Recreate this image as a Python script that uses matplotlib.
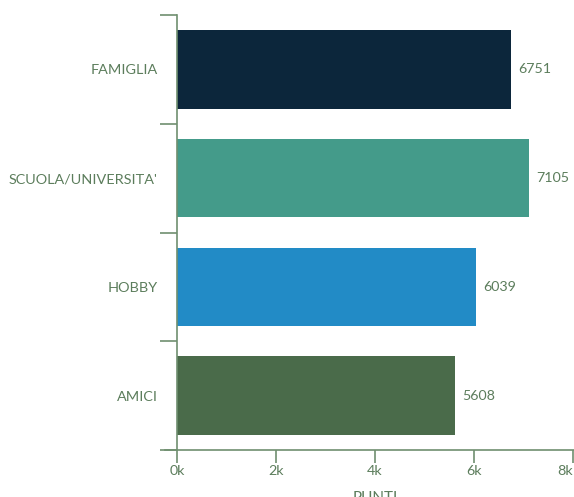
import matplotlib
matplotlib.use("Agg")
import matplotlib.pyplot as plt
from matplotlib.lines import Line2D

categorie = ["FAMIGLIA", "SCUOLA/UNIVERSITA'", "HOBBY", "AMICI"]
punti = [6751, 7105, 6039, 5608]
colori = ["#0c263b", "#449b8a", "#228bc6", "#4a6b4a"]
xticks = [0, 2000, 4000, 6000, 8000]
xtick_labels = ["0k", "2k", "4k", "6k", "8k"]

testo = "#5c7d5c"
linea = "#6f8f6f"

plt.rcParams["font.family"] = ["Lato", "DejaVu Sans"]

fig = plt.figure(figsize=(5.74, 4.97), dpi=100)
ax = fig.add_axes([177/574, 47/497, 396/574, 435/497])

pos = list(range(len(categorie)))
ax.barh(pos, punti, height=0.72, color=colori)
ax.set_ylim(len(categorie) - 0.5, -0.5)
ax.set_xlim(0, 8000)

# etichette dei valori
for p, v in zip(pos, punti):
    ax.text(v + 150, p, str(v), va="center", ha="left", fontsize=10.3, color=testo)

ax.set_yticks(pos)
ax.set_yticklabels(categorie, fontsize=10.4, color=testo)
ax.set_yticks([p - 0.5 for p in pos] + [len(pos) - 0.5], minor=True)
ax.tick_params(axis="y", which="major", length=0, pad=14)
ax.tick_params(axis="y", which="minor", length=12, color=linea, width=1.2)

ax.set_xticks(xticks)
ax.set_xticklabels(xtick_labels, fontsize=10.3, color=testo)
ax.get_xticklabels()[-1].set_ha("right")
ax.tick_params(axis="x", length=9, color=linea, width=1.2, pad=2)
ax.set_xlabel("PUNTI", fontsize=11, color=testo, labelpad=10)

for s in ["top", "right", "bottom"]:
    ax.spines[s].set_visible(False)
ax.spines["left"].set_color(linea)
ax.spines["left"].set_linewidth(1.2)

# asse x prolungato a sinistra
ax.add_line(Line2D([-12/396, 1.01], [0, 0], transform=ax.transAxes,
                   color=linea, linewidth=1.2, clip_on=False))

fig.savefig("out.png", dpi=100)
